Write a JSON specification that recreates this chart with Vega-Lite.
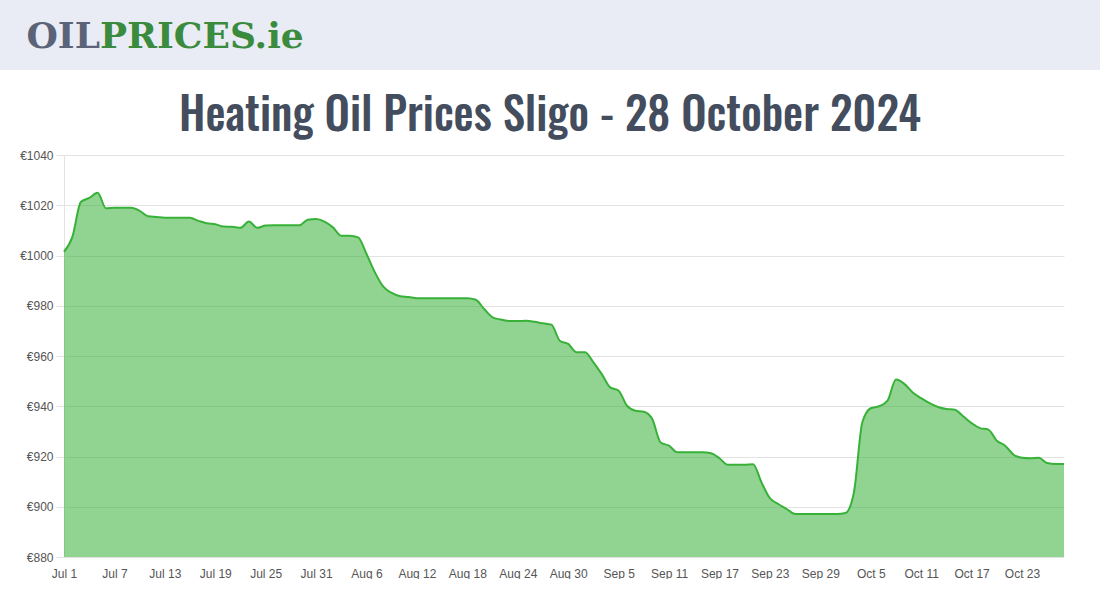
{
  "$schema": "https://vega.github.io/schema/vega-lite/v6.json",
  "padding": 0,
  "spacing": 9,
  "background": "white",
  "config": {"view": {"stroke": null}, "font": "Liberation Sans"},
  "vconcat": [
    {
      "width": 1100,
      "height": 70,
      "view": {"fill": "#e9ecf4", "stroke": null},
      "title": {
        "text": "Heating Oil Prices Sligo - 28 October 2024",
        "orient": "bottom",
        "anchor": "middle",
        "frame": "group",
        "offset": 25,
        "fontSize": 45,
        "font": "Oswald, Roboto Condensed, DejaVu Sans Condensed, Liberation Sans Narrow, Roboto",
        "fontWeight": 500,
        "color": "#434d5e"
      },
      "data": {"values": [{"oil": "OIL", "prices": "PRICES.ie"}]},
      "encoding": {
        "x": {"field": "oil", "type": "nominal", "scale": {"type": "point", "padding": 0, "align": 0.0909}, "axis": null}
      },
      "layer": [
        {
          "mark": {"type": "text", "align": "right", "baseline": "middle", "dy": 2, "font": "DejaVu Serif", "fontWeight": "bold", "fontSize": 36, "color": "#5b6378"},
          "encoding": {"text": {"field": "oil"}}
        },
        {
          "mark": {"type": "text", "align": "left", "baseline": "middle", "dy": 2, "font": "DejaVu Serif", "fontWeight": "bold", "fontSize": 36, "color": "#3a8b3e"},
          "encoding": {"text": {"field": "prices"}}
        }
      ]
    },
    {
      "spacing": 0,
      "hconcat": [
        {
          "width": 1,
          "height": 402,
          "data": {"values": []},
          "mark": "point"
        },
        {
          "width": 1000,
          "height": 402,
          "data": {"values": [
            {"date": "2024-07-01", "price": 1001.5}, {"date": "2024-07-02", "price": 1007.4}, {"date": "2024-07-03", "price": 1021.3}, {"date": "2024-07-04", "price": 1022.9}, {"date": "2024-07-05", "price": 1025}, {"date": "2024-07-06", "price": 1018.8}, {"date": "2024-07-07", "price": 1019}, {"date": "2024-07-08", "price": 1019}, {"date": "2024-07-09", "price": 1019}, {"date": "2024-07-10", "price": 1017.8}, {"date": "2024-07-11", "price": 1015.6}, {"date": "2024-07-12", "price": 1015.3}, {"date": "2024-07-13", "price": 1015}, {"date": "2024-07-14", "price": 1015}, {"date": "2024-07-15", "price": 1015}, {"date": "2024-07-16", "price": 1015}, {"date": "2024-07-17", "price": 1013.8}, {"date": "2024-07-18", "price": 1012.8}, {"date": "2024-07-19", "price": 1012.4}, {"date": "2024-07-20", "price": 1011.5}, {"date": "2024-07-21", "price": 1011.4}, {"date": "2024-07-22", "price": 1011}, {"date": "2024-07-23", "price": 1013.5}, {"date": "2024-07-24", "price": 1011}, {"date": "2024-07-25", "price": 1011.9}, {"date": "2024-07-26", "price": 1012}, {"date": "2024-07-27", "price": 1012}, {"date": "2024-07-28", "price": 1012}, {"date": "2024-07-29", "price": 1012}, {"date": "2024-07-30", "price": 1014.2}, {"date": "2024-07-31", "price": 1014.5},
            {"date": "2024-08-01", "price": 1013.5}, {"date": "2024-08-02", "price": 1011.2}, {"date": "2024-08-03", "price": 1007.9}, {"date": "2024-08-04", "price": 1007.9}, {"date": "2024-08-05", "price": 1007.2}, {"date": "2024-08-06", "price": 1000.6}, {"date": "2024-08-07", "price": 993.3}, {"date": "2024-08-08", "price": 987.6}, {"date": "2024-08-09", "price": 985.1}, {"date": "2024-08-10", "price": 983.8}, {"date": "2024-08-11", "price": 983.5}, {"date": "2024-08-12", "price": 983}, {"date": "2024-08-13", "price": 983}, {"date": "2024-08-14", "price": 983}, {"date": "2024-08-15", "price": 983}, {"date": "2024-08-16", "price": 983}, {"date": "2024-08-17", "price": 983}, {"date": "2024-08-18", "price": 983}, {"date": "2024-08-19", "price": 982.4}, {"date": "2024-08-20", "price": 978.7}, {"date": "2024-08-21", "price": 975.4}, {"date": "2024-08-22", "price": 974.5}, {"date": "2024-08-23", "price": 973.9}, {"date": "2024-08-24", "price": 973.9}, {"date": "2024-08-25", "price": 974}, {"date": "2024-08-26", "price": 973.6}, {"date": "2024-08-27", "price": 973}, {"date": "2024-08-28", "price": 972.5}, {"date": "2024-08-29", "price": 966.1}, {"date": "2024-08-30", "price": 964.8}, {"date": "2024-08-31", "price": 961.5},
            {"date": "2024-09-01", "price": 961.5}, {"date": "2024-09-02", "price": 957.5}, {"date": "2024-09-03", "price": 952.8}, {"date": "2024-09-04", "price": 947.5}, {"date": "2024-09-05", "price": 946.2}, {"date": "2024-09-06", "price": 940.2}, {"date": "2024-09-07", "price": 938.2}, {"date": "2024-09-08", "price": 937.8}, {"date": "2024-09-09", "price": 934.9}, {"date": "2024-09-10", "price": 925.6}, {"date": "2024-09-11", "price": 924.3}, {"date": "2024-09-12", "price": 921.7}, {"date": "2024-09-13", "price": 921.7}, {"date": "2024-09-14", "price": 921.7}, {"date": "2024-09-15", "price": 921.7}, {"date": "2024-09-16", "price": 921.3}, {"date": "2024-09-17", "price": 919.3}, {"date": "2024-09-18", "price": 916.7}, {"date": "2024-09-19", "price": 916.7}, {"date": "2024-09-20", "price": 916.7}, {"date": "2024-09-21", "price": 916.9}, {"date": "2024-09-22", "price": 909.7}, {"date": "2024-09-23", "price": 903.4}, {"date": "2024-09-24", "price": 901.1}, {"date": "2024-09-25", "price": 899.1}, {"date": "2024-09-26", "price": 897.1}, {"date": "2024-09-27", "price": 897.1}, {"date": "2024-09-28", "price": 897.1}, {"date": "2024-09-29", "price": 897.1}, {"date": "2024-09-30", "price": 897.1},
            {"date": "2024-10-01", "price": 897.1}, {"date": "2024-10-02", "price": 897.5}, {"date": "2024-10-03", "price": 905.7}, {"date": "2024-10-04", "price": 933.6}, {"date": "2024-10-05", "price": 939.2}, {"date": "2024-10-06", "price": 940}, {"date": "2024-10-07", "price": 942.2}, {"date": "2024-10-08", "price": 950.6}, {"date": "2024-10-09", "price": 948.9}, {"date": "2024-10-10", "price": 945.5}, {"date": "2024-10-11", "price": 943.2}, {"date": "2024-10-12", "price": 941.2}, {"date": "2024-10-13", "price": 939.7}, {"date": "2024-10-14", "price": 938.9}, {"date": "2024-10-15", "price": 938.6}, {"date": "2024-10-16", "price": 936}, {"date": "2024-10-17", "price": 933.3}, {"date": "2024-10-18", "price": 931.3}, {"date": "2024-10-19", "price": 930.7}, {"date": "2024-10-20", "price": 926.3}, {"date": "2024-10-21", "price": 924.3}, {"date": "2024-10-22", "price": 920.7}, {"date": "2024-10-23", "price": 919.5}, {"date": "2024-10-24", "price": 919.3}, {"date": "2024-10-25", "price": 919.5}, {"date": "2024-10-26", "price": 917.4}, {"date": "2024-10-27", "price": 917}, {"date": "2024-10-28", "price": 917}
          ]},
          "encoding": {
            "x": {
              "field": "date",
              "type": "temporal",
              "scale": {"type": "utc", "nice": false},
              "axis": {
                "values": [
                  {"year": 2024, "month": 7, "date": 1, "utc": true}, {"year": 2024, "month": 7, "date": 7, "utc": true}, {"year": 2024, "month": 7, "date": 13, "utc": true}, {"year": 2024, "month": 7, "date": 19, "utc": true}, {"year": 2024, "month": 7, "date": 25, "utc": true}, {"year": 2024, "month": 7, "date": 31, "utc": true},
                  {"year": 2024, "month": 8, "date": 6, "utc": true}, {"year": 2024, "month": 8, "date": 12, "utc": true}, {"year": 2024, "month": 8, "date": 18, "utc": true}, {"year": 2024, "month": 8, "date": 24, "utc": true}, {"year": 2024, "month": 8, "date": 30, "utc": true},
                  {"year": 2024, "month": 9, "date": 5, "utc": true}, {"year": 2024, "month": 9, "date": 11, "utc": true}, {"year": 2024, "month": 9, "date": 17, "utc": true}, {"year": 2024, "month": 9, "date": 23, "utc": true}, {"year": 2024, "month": 9, "date": 29, "utc": true},
                  {"year": 2024, "month": 10, "date": 5, "utc": true}, {"year": 2024, "month": 10, "date": 11, "utc": true}, {"year": 2024, "month": 10, "date": 17, "utc": true}, {"year": 2024, "month": 10, "date": 23, "utc": true}
                ],
                "labelExpr": "utcFormat(datum.value, '%b %-d')",
                "labelAngle": 0,
                "ticks": false,
                "domain": false,
                "grid": false,
                "labelPadding": 11,
                "labelFontSize": 12,
                "labelColor": "#555555",
                "labelFlush": false,
                "labelOverlap": false,
                "title": null
              }
            },
            "y": {
              "field": "price",
              "type": "quantitative",
              "scale": {"domain": [880, 1040], "nice": false, "zero": false},
              "axis": {
                "values": [880, 900, 920, 940, 960, 980, 1000, 1020, 1040],
                "labelExpr": "'€' + datum.value",
                "tickSize": 8,
                "labelPadding": 3,
                "tickColor": "#e3e3e3",
                "domainColor": "#e3e3e3",
                "gridColor": "#e3e3e3",
                "labelFontSize": 12,
                "labelColor": "#555555",
                "minExtent": 63,
                "maxExtent": 63,
                "title": null
              }
            }
          },
          "layer": [
            {"mark": {"type": "area", "interpolate": "monotone", "color": "#34af34", "opacity": 0.54, "clip": true}},
            {"mark": {"type": "line", "interpolate": "monotone", "color": "#38b138", "strokeWidth": 2}}
          ]
        }
      ]
    }
  ]
}
